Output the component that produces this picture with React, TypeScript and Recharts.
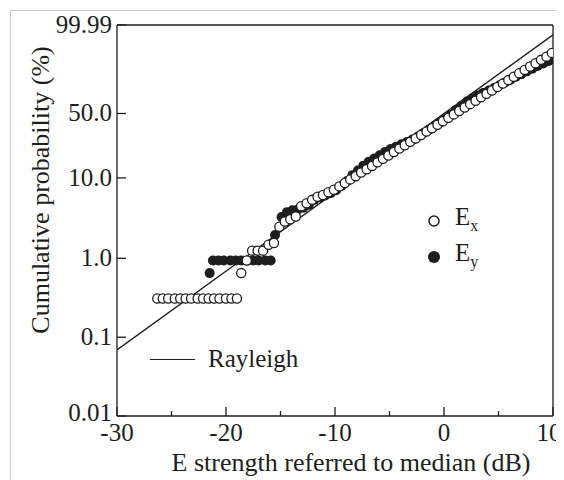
import React from 'react';
import { ScatterChart, Scatter, XAxis, YAxis, ReferenceLine } from 'recharts';

const xTicks = [-30, -25, -20, -15, -10, -5, 0, 5, 10];
const yTickPct = [0.01, 0.1, 1, 10, 50, 99.99];
const yTickLabels = ['0.01', '0.1', '1.0', '10.0', '50.0', '99.99'];

// E_x, open circles: field strength (dB re median) and cumulative probability (%)
const exDb = [
  -26.3, -25.8, -25.3, -24.7, -24.2, -23.7, -23.2, -22.6, -22.1, -21.6, -21.1, -20.6, -20.0, -19.5, -19.0,
  -18.6, -18.1, -17.6, -17.1, -16.6, -16.1, -15.6, -15.1, -14.6, -14.1, -13.6, -13.1, -12.6, -12.1, -11.6,
  -11.1, -10.6, -10.1, -9.6, -9.1, -8.6, -8.1, -7.6, -7.1, -6.6, -6.1, -5.6, -5.1, -4.6, -4.1, -3.6, -3.1,
  -2.6, -2.1, -1.6, -1.1, -0.6, -0.1, 0.4, 0.9, 1.4, 1.9, 2.4, 2.9, 3.4, 3.9, 4.4, 4.9, 5.4, 5.9, 6.4, 6.9,
  7.4, 7.9, 8.4, 8.9, 9.4, 9.9,
];
const exPct = [
  0.31, 0.31, 0.31, 0.31, 0.31, 0.31, 0.31, 0.31, 0.31, 0.31, 0.31, 0.31, 0.31, 0.31, 0.31,
  0.65, 0.94, 1.25, 1.25, 1.25, 1.48, 1.56, 2.5, 2.9, 3.1, 3.35, 4.5, 4.9, 5.4, 5.9,
  6.2, 6.7, 7.2, 7.9, 8.7, 9.6, 10.5, 11.6, 12.7, 13.9, 15.3, 16.8, 18.4, 20.1, 22.0, 24.0, 26.1,
  28.4, 30.9, 33.6, 36.3, 39.3, 42.4, 45.7, 49.1, 52.6, 56.2, 59.8, 63.5, 67.2, 70.8, 74.3, 77.8, 81.0, 84.1, 86.9, 89.4,
  91.6, 93.5, 95.1, 96.4, 97.4, 98.3,
];

// E_y, filled circles
const eyDb = [
  -21.5, -21.2, -20.7, -20.2, -19.6, -19.1, -18.6, -18.0, -17.5, -17.0, -16.4, -15.9,
  -15.5, -14.9, -14.4, -13.9, -13.4, -12.9, -12.4, -11.9, -11.4, -10.9, -10.4, -9.9, -9.4, -8.9,
  -8.4, -7.9, -7.4, -6.9, -6.4, -5.9, -5.4, -4.9, -4.4, -3.9, -3.4, -2.9, -2.4, -1.9, -1.4, -0.9,
  -0.4, 0.1, 0.6, 1.1, 1.6, 2.1, 2.6, 3.1, 3.6, 4.1, 4.6, 5.1, 5.6, 6.1, 6.6, 7.1, 7.6, 8.1, 8.6,
  9.1, 9.6, 10.0,
];
const eyPct = [
  0.65, 0.94, 0.94, 0.94, 0.94, 0.94, 0.94, 0.94, 0.94, 0.94, 0.94, 0.94,
  1.97, 3.3, 3.8, 4.0, 4.1, 4.3, 4.7, 5.4, 5.8, 6.1, 6.5, 7.1, 8.0, 9.2,
  10.8, 12.3, 14.0, 15.6, 17.0, 18.5, 20.2, 21.8, 23.0, 24.5, 26.0, 27.6, 29.8, 32.3, 35.0, 37.8,
  41.0, 44.5, 48.5, 53.5, 58.0, 62.5, 66.0, 69.0, 71.8, 74.2, 76.8, 79.4, 82.0, 84.5, 86.8, 88.8, 90.7, 92.3, 93.8,
  95.0, 96.0, 96.8,
];

// Rayleigh reference line end points
const rayleighDb = [-30, 10];
const rayleighPct = [0.069, 99.9];

// Rayleigh probability paper: log10(-ln(1 - P))
const toPaper = (pct: number) => Math.log10(-Math.log(1 - pct / 100));

const exData = exDb.map((x, i) => ({ x, y: toPaper(exPct[i]) }));
const eyData = eyDb.map((x, i) => ({ x, y: toPaper(eyPct[i]) }));
const rayleighData = rayleighDb.map((x, i) => ({ x, y: toPaper(rayleighPct[i]) }));
const yTicks = yTickPct.map(toPaper);

const FONT = '"Liberation Serif", "DejaVu Serif", serif';
const INK = '#1e1e1e';

const BottomTick = (props: any) => {
  const { x, y, payload } = props;
  const major = payload.value % 10 === 0;
  const shift = payload.value === 10 ? -4 : 0;
  return (
    <g>
      <line x1={x} x2={x} y1={y} y2={y - (major ? 9 : 5)} stroke={INK} strokeWidth={1.3} />
      {major && (
        <text x={x + shift} y={y + 25} textAnchor="middle" fontSize={25} fontFamily={FONT} fill={INK}>
          {payload.value}
        </text>
      )}
    </g>
  );
};

const TopTick = (props: any) => {
  const { x, y, payload } = props;
  const major = payload.value % 10 === 0;
  return <line x1={x} x2={x} y1={y} y2={y + (major ? 9 : 5)} stroke={INK} strokeWidth={1.3} />;
};

const LeftTick = (props: any) => {
  const { x, y, index } = props;
  return (
    <g>
      <line x1={x} x2={x + 9} y1={y} y2={y} stroke={INK} strokeWidth={1.3} />
      <text x={x - 5} y={y} dy={index === 0 ? 5 : 8} textAnchor="end" fontSize={25} fontFamily={FONT} fill={INK}>
        {yTickLabels[index]}
      </text>
    </g>
  );
};

const OpenDot = (props: any) => (
  <circle cx={props.cx} cy={props.cy} r={4.6} fill="#fff" stroke={INK} strokeWidth={1.3} />
);
const FilledDot = (props: any) => <circle cx={props.cx} cy={props.cy} r={5} fill={INK} />;
const NoDot = () => null;

const App: React.FC = () => {
  return (
    <div style={{ position: 'relative', width: 556, height: 472, fontFamily: FONT }}>
      <style>{'body{overflow:hidden}.recharts-surface{overflow:visible}'}</style>
      <div
        style={{
          position: 'absolute',
          left: 2,
          top: 2,
          width: 552,
          height: 470,
          border: '1px solid #c9c9c9',
          borderBottom: 'none',
          boxSizing: 'border-box',
        }}
      />
      <ScatterChart width={556} height={472} margin={{ top: 16, right: 11, bottom: 0, left: 0 }}>
        <XAxis
          type="number"
          dataKey="x"
          domain={[-30, 10]}
          ticks={xTicks}
          interval={0}
          allowDataOverflow
          height={64}
          tickSize={0}
          tickMargin={0}
          stroke={INK}
          strokeWidth={1.3}
          tick={<BottomTick />}
          label={{
            content: () => (
              <text x={343} y={463} textAnchor="middle" fontSize={26} fontFamily={FONT} fill={INK}>
                E strength referred to median (dB)
              </text>
            ),
          }}
        />
        <XAxis
          xAxisId="top"
          orientation="top"
          type="number"
          dataKey="x"
          domain={[-30, 10]}
          ticks={xTicks}
          interval={0}
          height={1}
          tickSize={0}
          tickMargin={0}
          stroke={INK}
          strokeWidth={1.3}
          tick={<TopTick />}
        />
        <YAxis
          type="number"
          dataKey="y"
          domain={[yTicks[0], yTicks[yTicks.length - 1]]}
          ticks={yTicks}
          interval={0}
          allowDataOverflow
          width={109}
          tickSize={0}
          tickMargin={0}
          stroke={INK}
          strokeWidth={1.3}
          tick={<LeftTick />}
          label={{
            content: () => (
              <text
                x={32}
                y={182}
                transform="rotate(-90 32 182)"
                textAnchor="middle"
                dominantBaseline="central"
                fontSize={26}
                fontFamily={FONT}
                fill={INK}
              >
                Cumulative probability (%)
              </text>
            ),
          }}
        />
        <ReferenceLine x={10} stroke={INK} strokeWidth={1.3} />
        <Scatter data={rayleighData} line={{ stroke: INK, strokeWidth: 1.3 }} shape={<NoDot />} isAnimationActive={false} />
        <Scatter data={eyData} shape={<FilledDot />} isAnimationActive={false} />
        <Scatter data={exData} shape={<OpenDot />} isAnimationActive={false} />
      </ScatterChart>

      {/* legend */}
      <div style={{ position: 'absolute', left: 419, top: 195, color: INK, fontSize: 25, lineHeight: '28px' }}>
        <div style={{ display: 'flex', alignItems: 'center', height: 36 }}>
          <svg width={14} height={14} style={{ marginRight: 14 }}>
            <circle cx={7} cy={7} r={5} fill="#fff" stroke={INK} strokeWidth={1.5} />
          </svg>
          <span>
            E<sub style={{ fontSize: 16, verticalAlign: '-6px' }}>x</sub>
          </span>
        </div>
        <div style={{ display: 'flex', alignItems: 'center', height: 36 }}>
          <svg width={14} height={14} style={{ marginRight: 14 }}>
            <circle cx={7} cy={7} r={6} fill={INK} />
          </svg>
          <span>
            E<sub style={{ fontSize: 16, verticalAlign: '-6px' }}>y</sub>
          </span>
        </div>
      </div>
      <div style={{ position: 'absolute', left: 142, top: 337, display: 'flex', alignItems: 'center', color: INK, fontSize: 25 }}>
        <div style={{ width: 45, height: 0, borderTop: `1.3px solid ${INK}`, marginRight: 13 }} />
        <span>Rayleigh</span>
      </div>
    </div>
  );
};

export default App;
